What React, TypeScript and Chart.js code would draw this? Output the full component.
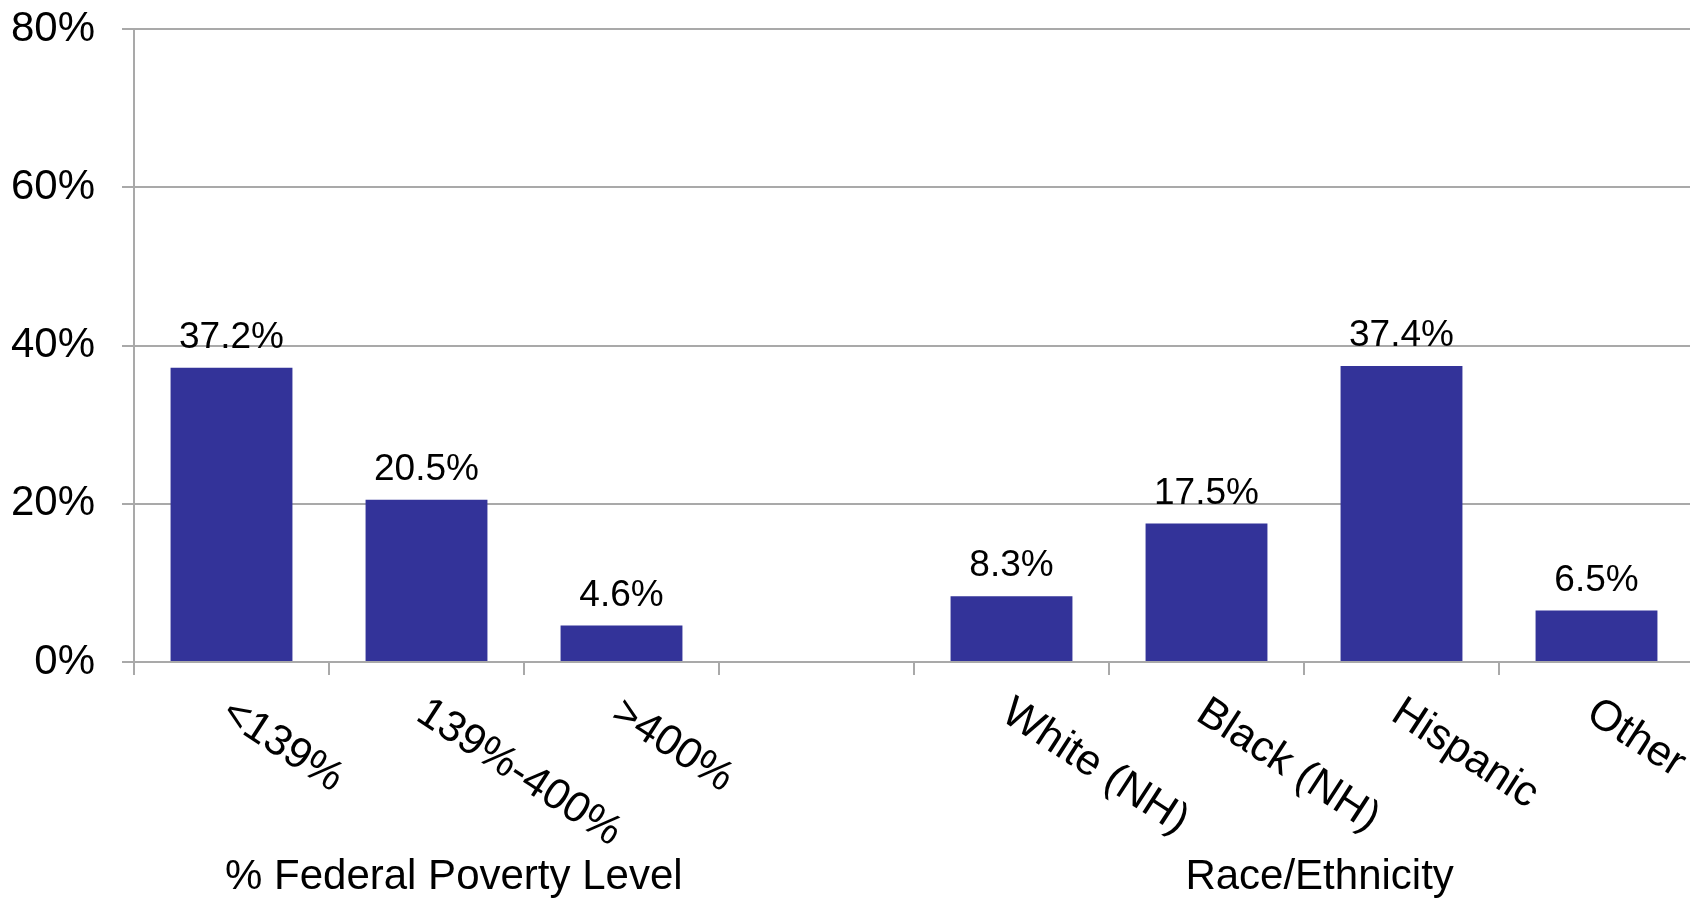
import React, { useEffect, useRef } from "react";
import { Chart, registerables } from "chart.js";

Chart.register(...registerables);

const categories = ["<139%", "139%-400%", ">400%", "", "White (NH)", "Black (NH)", "Hispanic", "Other"];
const values: (number | null)[] = [37.2, 20.5, 4.6, null, 8.3, 17.5, 37.4, 6.5];
const yTicks = [0, 20, 40, 60, 80];
const groupTitles = ["% Federal Poverty Level", "Race/Ethnicity"];
const groupTitlePositions = [1.14, 5.58];

const FONT = "'Liberation Sans', Arial, Helvetica, sans-serif";
const BAR_COLOR = "#333399";
const GRID_COLOR = "#a9a9a9";
const LABEL_ANGLE = (33 * Math.PI) / 180;

const labelsPlugin = {
  id: "customLabels",
  afterDatasetsDraw(chart: any) {
    const ctx = chart.ctx;
    const meta = chart.getDatasetMeta(0);
    ctx.save();
    ctx.fillStyle = "#000";
    ctx.font = `37px ${FONT}`;
    ctx.textAlign = "center";
    ctx.textBaseline = "alphabetic";
    meta.data.forEach((bar: any, i: number) => {
      const v = values[i];
      if (v === null || v === undefined) return;
      ctx.fillText(`${v.toFixed(1)}%`, bar.x, bar.y - 20);
    });
    ctx.restore();
  },
  afterDraw(chart: any) {
    const ctx = chart.ctx;
    const xs = chart.scales.x;
    const bottom = chart.chartArea.bottom;
    ctx.save();
    ctx.fillStyle = "#000";
    ctx.font = `43px ${FONT}`;
    ctx.textAlign = "left";
    ctx.textBaseline = "top";
    categories.forEach((c, i) => {
      if (!c) return;
      const x = xs.getPixelForValue(i);
      ctx.save();
      ctx.translate(x + 6, bottom + 29);
      ctx.rotate(LABEL_ANGLE);
      ctx.fillText(c, 0, 0);
      ctx.restore();
    });
    ctx.font = `42px ${FONT}`;
    ctx.textAlign = "center";
    ctx.textBaseline = "alphabetic";
    groupTitles.forEach((t, i) => {
      const x = xs.getPixelForValue(groupTitlePositions[i]);
      ctx.fillText(t, x, bottom + 227);
    });
    ctx.restore();
  },
};

export default function App() {
  const ref = useRef<HTMLCanvasElement | null>(null);
  useEffect(() => {
    document.body.style.margin = "0";
    document.body.style.overflow = "hidden";
    document.documentElement.style.overflow = "hidden";
    if (!ref.current) return;
    const chart = new Chart(ref.current, {
      type: "bar",
      data: {
        labels: categories,
        datasets: [
          {
            data: values,
            backgroundColor: BAR_COLOR,
            barPercentage: 0.625,
            categoryPercentage: 1,
          },
        ],
      },
      options: {
        animation: false,
        responsive: false,
        maintainAspectRatio: false,
        layout: { padding: { left: 0, right: 0, top: 29, bottom: 0 } },
        plugins: { legend: { display: false }, tooltip: { enabled: false } },
        scales: {
          x: {
            offset: true,
            grid: {
              offset: true,
              drawOnChartArea: false,
              drawTicks: true,
              tickLength: 13,
              color: GRID_COLOR,
              lineWidth: 2,
            },
            border: { display: true, color: GRID_COLOR, width: 2 },
            ticks: { display: false },
            afterFit(scale: any) {
              scale.height = 238;
              scale.paddingLeft = 0;
              scale.paddingRight = 0;
            },
          },
          y: {
            min: 0,
            max: 80,
            afterBuildTicks(scale: any) {
              scale.ticks = yTicks.map((v) => ({ value: v }));
            },
            grid: {
              color: GRID_COLOR,
              lineWidth: 2,
              drawTicks: true,
              tickLength: 12,
            },
            border: { display: true, color: GRID_COLOR, width: 2 },
            ticks: {
              padding: 27,
              color: "#000",
              font: { family: FONT, size: 42 },
              callback: (v: any) => `${v}%`,
            },
            afterFit(scale: any) {
              scale.width = 134;
              scale.paddingTop = 0;
              scale.paddingBottom = 0;
            },
          },
        },
      },
      plugins: [labelsPlugin],
    });
    return () => chart.destroy();
  }, []);
  return (
    <div style={{ position: "absolute", left: 0, top: 0, width: 1694, height: 900, overflow: "hidden" }}>
      <canvas ref={ref} width={1694} height={900} style={{ display: "block", width: 1694, height: 900 }} />
    </div>
  );
}
